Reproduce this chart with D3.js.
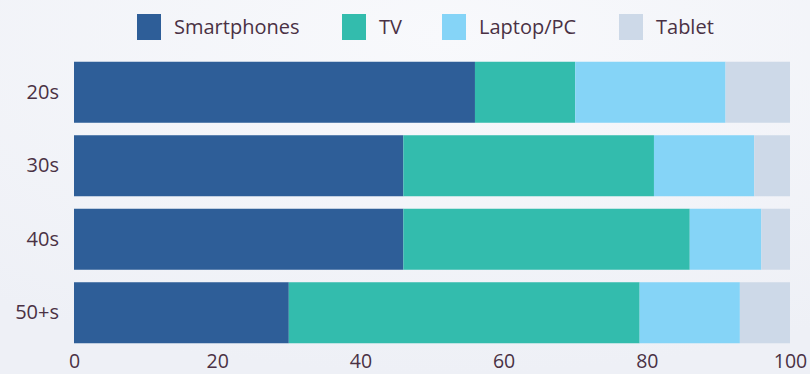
<!DOCTYPE html>
<html>
<head>
<meta charset="utf-8">
<script src="https://cdn.jsdelivr.net/npm/d3@7"></script>
<style>
  html, body { margin: 0; padding: 0; background: #f1f2f7; }
  svg { display: block; }
  text { font-family: "Open Sans", sans-serif; fill: #4a3144; }
</style>
</head>
<body>
<svg id="chart" width="810" height="374"></svg>
<script>
// Device share by age group (percent of time)
const ageGroups = ["20s", "30s", "40s", "50+s"];
const devices = ["Smartphones", "TV", "Laptop/PC", "Tablet"];
const smartphones = [56, 46, 46, 30];
const tv = [14, 35, 40, 49];
const laptop = [21, 14, 10, 14];
const tablet = [9, 5, 4, 7];
const xTicks = [0, 20, 40, 60, 80, 100];
const colors = ["#2e5e98", "#33bcad", "#85d4f7", "#cdd9e8"];

const rows = ageGroups.map((g, i) => ({
  group: g,
  "Smartphones": smartphones[i],
  "TV": tv[i],
  "Laptop/PC": laptop[i],
  "Tablet": tablet[i]
}));

const svg = d3.select("#chart");

// soft backdrop
const defs = svg.append("defs");
const bg = defs.append("radialGradient").attr("id", "bg")
  .attr("cx", "0.55").attr("cy", "0.1").attr("r", "0.9");
bg.append("stop").attr("offset", "0").attr("stop-color", "#f8f9fc");
bg.append("stop").attr("offset", "1").attr("stop-color", "#eef0f6");
svg.append("rect").attr("width", 810).attr("height", 374).attr("fill", "url(#bg)");

const x = d3.scaleLinear().domain([0, 100]).range([74, 790]);
const y = d3.scaleBand().domain(ageGroups).range([55.5, 349.5])
  .paddingInner(0.17).paddingOuter(0.085);
const color = d3.scaleOrdinal().domain(devices).range(colors);

const stacked = d3.stack().keys(devices)(rows);

svg.append("g").selectAll("g")
  .data(stacked)
  .join("g")
  .attr("fill", d => color(d.key))
  .selectAll("rect")
  .data(d => d)
  .join("rect")
  .attr("x", d => x(d[0]))
  .attr("y", d => y(d.data.group))
  .attr("width", d => x(d[1]) - x(d[0]))
  .attr("height", y.bandwidth());

// x axis
const xAxis = svg.append("g")
  .attr("transform", "translate(0,368)")
  .call(d3.axisBottom(x).tickValues(xTicks).tickSize(0).tickPadding(0));
xAxis.select(".domain").remove();
xAxis.selectAll("text")
  .attr("dy", null)
  .attr("y", 0)
  .style("font-size", "19.5px")
  .attr("fill", "#4a3144");

// y axis
const yAxis = svg.append("g")
  .attr("transform", "translate(59,0)")
  .call(d3.axisLeft(y).tickSize(0).tickPadding(0));
yAxis.select(".domain").remove();
yAxis.selectAll("text")
  .style("font-size", "20px")
  .attr("fill", "#4a3144");

// legend
const legendX = [137, 342, 442, 619];
const legend = svg.append("g");
devices.forEach((name, i) => {
  const g = legend.append("g").attr("transform", `translate(${legendX[i]},14)`);
  g.append("rect").attr("width", 24).attr("height", 26).attr("fill", colors[i]);
  g.append("text").attr("x", 37).attr("y", 13).attr("dy", "0.35em")
    .style("font-size", "20px").text(name);
});
</script>
</body>
</html>
